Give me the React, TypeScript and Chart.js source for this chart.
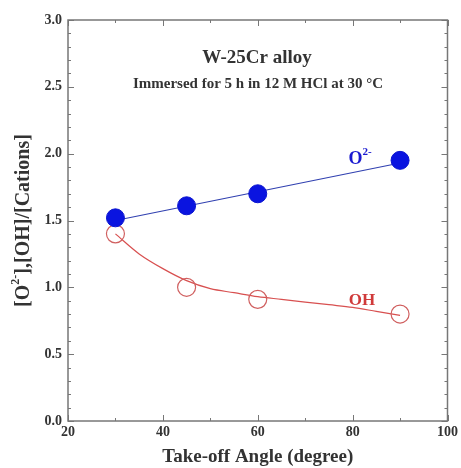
import React, { useEffect, useRef } from "react";
import { Chart, registerables } from "chart.js";

Chart.register(...registerables);

const angles = [30, 45, 60, 90];
const o2Values = [1.52, 1.61, 1.7, 1.95];
const ohValues = [1.4, 1.0, 0.91, 0.8];
const o2FitX = [30, 90];
const o2FitY = [1.5, 1.93];
const ohFitX = [30, 35, 40, 45, 50, 55, 60, 65, 70, 75, 80, 85, 90];
const ohFitY = [1.4, 1.25, 1.14, 1.05, 0.99, 0.96, 0.93, 0.91, 0.89, 0.87, 0.85, 0.82, 0.79];

const title1 = "W-25Cr alloy";
const title2 = "Immersed for 5 h in 12 M HCl at 30 \u00B0C";
const xTitle = "Take-off Angle (degree)";

const SERIF = "'Liberation Serif', 'DejaVu Serif', serif";

const toXY = (xs: number[], ys: number[]) => xs.map((x, i) => ({ x, y: ys[i] }));

function drawParts(ctx: CanvasRenderingContext2D, parts: { t: string; sup?: boolean }[], cx: number, cy: number, size: number, supSize: number) {
  let total = 0;
  const widths = parts.map((p) => {
    ctx.font = `bold ${p.sup ? supSize : size}px ${SERIF}`;
    const w = ctx.measureText(p.t).width;
    total += w;
    return w;
  });
  let x = cx - total / 2;
  ctx.textAlign = "left";
  ctx.textBaseline = "middle";
  parts.forEach((p, i) => {
    ctx.font = `bold ${p.sup ? supSize : size}px ${SERIF}`;
    ctx.fillText(p.t, x, p.sup ? cy - size * 0.4 : cy);
    x += widths[i];
  });
}

const decorPlugin = {
  id: "decor",
  afterDraw(chart: any) {
    const { ctx, chartArea, scales } = chart;
    const { left, right, top, bottom } = chartArea;
    const xs = scales.x;
    const ys = scales.y;
    ctx.save();
    ctx.strokeStyle = "#777";
    ctx.lineWidth = 1;
    ctx.beginPath();
    for (let v = 20; v <= 100; v += 10) {
      const px = Math.round(xs.getPixelForValue(v)) + 0.5;
      const len = v % 20 === 0 ? 6 : 3;
      ctx.moveTo(px, bottom);
      ctx.lineTo(px, bottom - len);
      ctx.moveTo(px, top);
      ctx.lineTo(px, top + len);
    }
    for (let i = 0; i <= 30; i++) {
      const py = Math.round(ys.getPixelForValue(i / 10)) + 0.5;
      const len = i % 5 === 0 ? 6 : 3;
      ctx.moveTo(left, py);
      ctx.lineTo(left + len, py);
      ctx.moveTo(right, py);
      ctx.lineTo(right - len, py);
    }
    ctx.stroke();
    ctx.lineWidth = 1.5;
    ctx.strokeRect(left, top, right - left, bottom - top);

    // Titles inside plot
    ctx.fillStyle = "#333";
    ctx.textAlign = "center";
    ctx.textBaseline = "middle";
    ctx.font = `bold 19px ${SERIF}`;
    ctx.fillText(title1, 257, 58);
    ctx.font = `bold 15px ${SERIF}`;
    ctx.fillText(title2, 258, 84);

    // Series labels
    ctx.fillStyle = "#1a1ad0";
    drawParts(ctx, [{ t: "O" }, { t: "2-", sup: true }], 360, 159, 18, 11);
    ctx.fillStyle = "#d03a3a";
    ctx.textAlign = "center";
    ctx.font = `bold 17px ${SERIF}`;
    ctx.fillText("OH", 362, 301);

    // Axis titles
    ctx.fillStyle = "#333";
    ctx.font = `bold 19px ${SERIF}`;
    ctx.textAlign = "center";
    ctx.fillText(xTitle, (left + right) / 2, 457);

    ctx.translate(24, (top + bottom) / 2);
    ctx.rotate(-Math.PI / 2);
    drawParts(ctx, [{ t: "[O" }, { t: "2-", sup: true }, { t: "],[OH]/[Cations]" }], 0, 0, 20, 12);
    ctx.restore();
  },
};

export default function App() {
  const ref = useRef<HTMLCanvasElement>(null);
  useEffect(() => {
    if (!ref.current) return;
    const chart = new Chart(ref.current, {
      type: "scatter",
      data: {
        datasets: [
          {
            label: "O2- fit",
            data: toXY(o2FitX, o2FitY),
            showLine: true,
            borderColor: "#3040b0",
            borderWidth: 1.2,
            pointRadius: 0,
            order: 3,
          },
          {
            label: "OH fit",
            data: toXY(ohFitX, ohFitY),
            showLine: true,
            borderColor: "#d85050",
            borderWidth: 1.2,
            pointRadius: 0,
            cubicInterpolationMode: "monotone",
            order: 4,
          },
          {
            label: "O2-",
            data: toXY(angles, o2Values),
            backgroundColor: "#0a14e0",
            borderColor: "#0a14d0",
            borderWidth: 1,
            pointRadius: 9,
            order: 1,
          },
          {
            label: "OH",
            data: toXY(angles, ohValues),
            backgroundColor: "rgba(255,255,255,0)",
            borderColor: "#d06060",
            borderWidth: 1.2,
            pointRadius: 9,
            order: 2,
          },
        ],
      },
      options: {
        responsive: false,
        animation: false,
        layout: { padding: { left: 0, right: 13, top: 20, bottom: 0 } },
        plugins: { legend: { display: false }, tooltip: { enabled: false } },
        scales: {
          x: {
            type: "linear",
            min: 20,
            max: 100,
            grid: { display: false, drawTicks: false },
            border: { display: false },
            ticks: {
              stepSize: 20,
              padding: 3,
              color: "#333",
              font: { family: SERIF, size: 14, weight: "bold" },
            },
            afterFit: (s: any) => {
              s.height = 47;
            },
          },
          y: {
            type: "linear",
            min: 0,
            max: 3,
            grid: { display: false, drawTicks: false },
            border: { display: false },
            ticks: {
              stepSize: 0.5,
              padding: 6,
              color: "#333",
              font: { family: SERIF, size: 14, weight: "bold" },
              callback: (v: any) => Number(v).toFixed(1),
            },
            afterFit: (s: any) => {
              s.width = 68;
            },
          },
        },
      },
      plugins: [decorPlugin],
    } as any);
    return () => chart.destroy();
  }, []);
  return (
    <div style={{ position: "absolute", left: 0, top: 0, width: 461, height: 468, background: "#fff" }}>
      <canvas ref={ref} width={461} height={468} />
    </div>
  );
}
